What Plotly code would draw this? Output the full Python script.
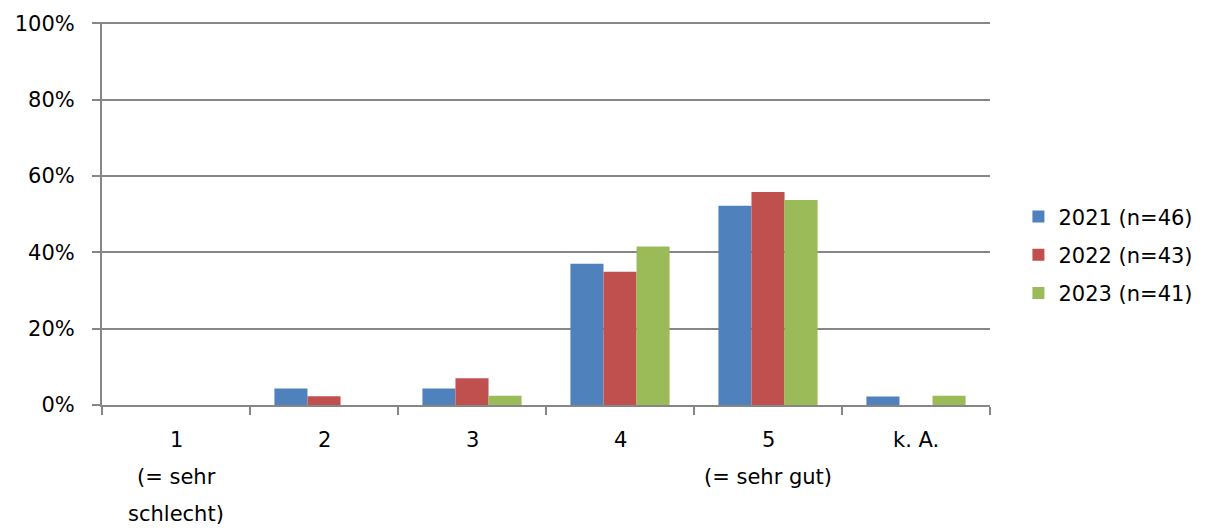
import plotly.graph_objects as go

categories = ["1", "2", "3", "4", "5", "k. A."]
cat_labels = [["1", "(= sehr", "schlecht)"], ["2"], ["3"], ["4"], ["5", "(= sehr gut)"], ["k. A."]]
series_names = ["2021 (n=46)", "2022 (n=43)", "2023 (n=41)"]
v2021 = [0.0, 4.3, 4.3, 37.0, 52.2, 2.2]
v2022 = [0.0, 2.3, 7.0, 34.9, 55.8, 0.0]
v2023 = [0.0, 0.0, 2.4, 41.5, 53.7, 2.4]
colors = ["#4F81BD", "#C0504D", "#9BBB59"]
y_ticks = [0, 20, 40, 60, 80, 100]
y_ticktext = ["0%", "20%", "40%", "60%", "80%", "100%"]

FONT = "'DejaVu Sans', sans-serif"
FS = 21
fig = go.Figure()
for name, vals, c in zip(series_names, [v2021, v2022, v2023], colors):
    fig.add_trace(go.Bar(x=categories, y=vals, name=name, legendgroup=name,
                         marker=dict(color=c, line=dict(width=0))))

for idx, lines in enumerate(cat_labels):
    for i, t in enumerate(lines):
        fig.add_annotation(x=idx, y=0, xref="x", yref="y", text=t, showarrow=False,
                           yanchor="top", yshift=-21 - 37 * i,
                           font=dict(family=FONT, size=FS, color="#000000"))

fig.update_layout(
    width=1204, height=524,
    margin=dict(l=94, r=222, t=14, b=127, autoexpand=False),
    paper_bgcolor="white", plot_bgcolor="white",
    barmode="group", bargap=0.33, bargroupgap=0,
    font=dict(family=FONT, size=FS, color="#000000"),
    legend=dict(x=1.032, y=0.392, xanchor="left", yanchor="middle",
                font=dict(family=FONT, size=FS), tracegroupgap=8, itemwidth=30),
    showlegend=True,
)
fig.update_xaxes(type="category", showticklabels=False, showline=True, linecolor="#868686", linewidth=2,
                 ticks="outside", tickson="boundaries", ticklen=8, tickcolor="#868686", tickwidth=2,
                 showgrid=False, automargin=False)
fig.update_yaxes(range=[0, 100.3], tickvals=y_ticks, ticktext=y_ticktext, showline=True,
                 linecolor="#868686", linewidth=2, ticks="outside", ticklen=8, tickcolor="#868686",
                 tickwidth=2, showgrid=True, gridcolor="#868686", gridwidth=2, zeroline=False,
                 automargin=False, ticklabelstandoff=13,
                 tickfont=dict(family=FONT, size=FS, color="#000000"))
fig.write_html("out.html")
